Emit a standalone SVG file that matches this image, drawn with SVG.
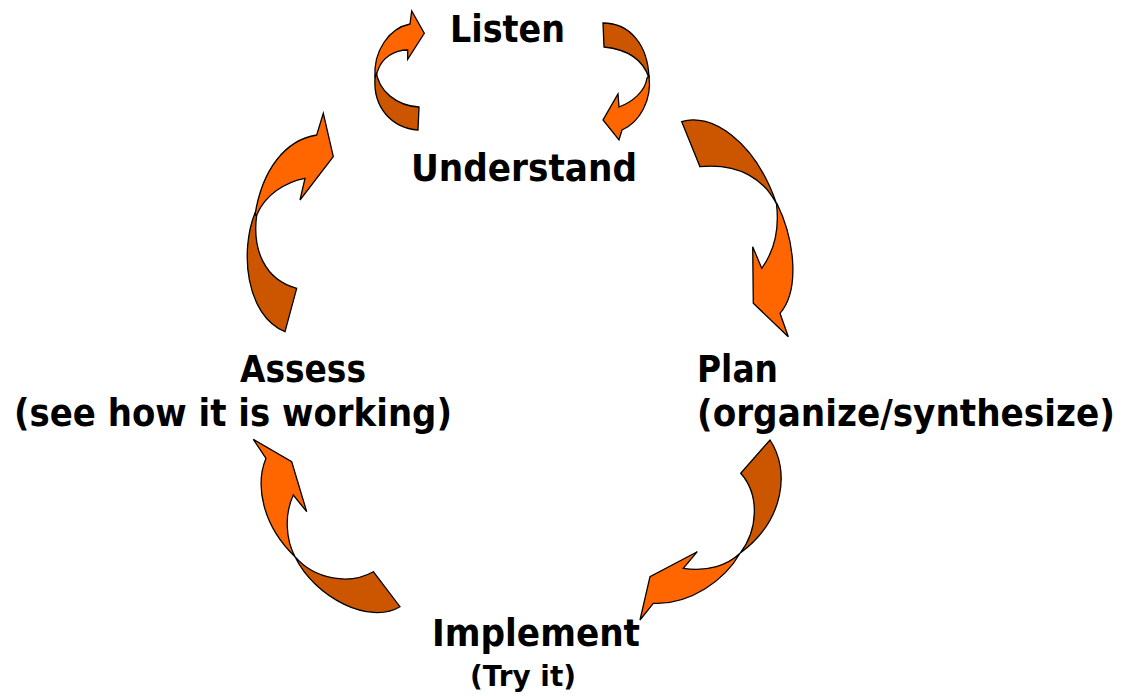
<svg xmlns="http://www.w3.org/2000/svg" width="1128" height="696" viewBox="0 0 1128 696">
<style>
.lbl{font-family:"DejaVu Sans","Noto Sans",sans-serif;font-weight:bold;font-size:37px;fill:#000}
.sm{font-size:29px}
.back{fill:#CC5500;stroke:#000;stroke-width:1.3;stroke-linejoin:miter}
.front{fill:#FF6600;stroke:#000;stroke-width:1.3;stroke-linejoin:miter}
</style>
<rect width="1128" height="696" fill="#fff"/>
<g id="connectors">
  <g id="arrow-listen-loop">
    <path class="back" d="M376,70 C378,92 398,106 419,107 L418,130 C392,128 373,108 375,78 Z"/>
    <path class="front" d="M375,78 C373,50 390,28 410,24 L411.7,11 L424.3,33.3 L407.7,59.3 L407.7,50 C394,50 382,58 378,70 Z"/>
  </g>
  <g id="arrow-listen-understand">
    <path class="back" d="M603,23 C630,23 648,45 649,78 C644,62 632,50 604,47 Z"/>
    <path class="front" d="M649,76 C652,100 640,122 622,130 L619,140 L603,120 L618,94 L619,107 C632,102 645,92 647,78 Z"/>
  </g>
  <g id="arrow-understand-plan">
    <path class="back" d="M681.7,121.7 C710,112 755,140 777,205 C765,180 740,163 700,166.7 Z"/>
    <path class="front" d="M776.7,203 C795,240 800,290 780,313.3 L788.3,336.7 L753.3,303.3 L752.7,246.7 L761.7,268.3 C775,250 779,228 776.7,206 Z"/>
  </g>
  <g id="arrow-plan-implement">
    <path class="back" d="M770,440 C790,470 785,520 740,553.3 C758,530 760,495 740.7,473.3 Z"/>
    <path class="front" d="M740,553.3 C725,580 690,605 653.3,603.3 L640,620 L650,576.7 L697.3,551.7 L683.3,568.3 C708,572 728,565 740,553.3 Z"/>
  </g>
  <g id="arrow-implement-assess">
    <path class="back" d="M295,556.7 C315,598 370,625 400,606.7 L373.3,571.7 C350,585 315,580 295,556.7 Z"/>
    <path class="front" d="M266,458.3 L253.3,439.3 L291.7,461.7 L306.7,511.7 L293.3,495 C284,515 286,540 295,556.7 C262,525 255,485 266,458.3 Z"/>
  </g>
  <g id="arrow-assess-understand">
    <path class="back" d="M255,213 C240,250 245,315 285,331.7 L296.7,288.3 C265,280 252,250 256.7,215 Z"/>
    <path class="front" d="M255,215 C262,170 285,140 316.7,135 L323.3,113.3 L333.3,156.7 L300,200 L305,178.3 C285,182 265,195 256.7,215 Z"/>
  </g>
</g>
<g id="node-listen"><text class="lbl" x="450" y="42" textLength="115" lengthAdjust="spacingAndGlyphs">Listen</text></g>
<g id="node-understand"><text class="lbl" x="411" y="181" textLength="226" lengthAdjust="spacingAndGlyphs">Understand</text></g>
<g id="node-plan">
  <text class="lbl" x="697" y="382" textLength="81" lengthAdjust="spacingAndGlyphs">Plan</text>
  <text class="lbl" transform="translate(697,426) scale(0.927,1)" x="0" y="0">(organize/synthesize)</text>
</g>
<g id="node-implement">
  <text class="lbl" x="432" y="646" textLength="208" lengthAdjust="spacingAndGlyphs">Implement</text>
  <text class="lbl sm" x="470" y="686" textLength="106" lengthAdjust="spacingAndGlyphs">(Try it)</text>
</g>
<g id="node-assess">
  <text class="lbl" x="240" y="382" textLength="126" lengthAdjust="spacingAndGlyphs">Assess</text>
  <text class="lbl" x="14" y="426" textLength="438" lengthAdjust="spacingAndGlyphs">(see how it is working)</text>
</g>
</svg>
